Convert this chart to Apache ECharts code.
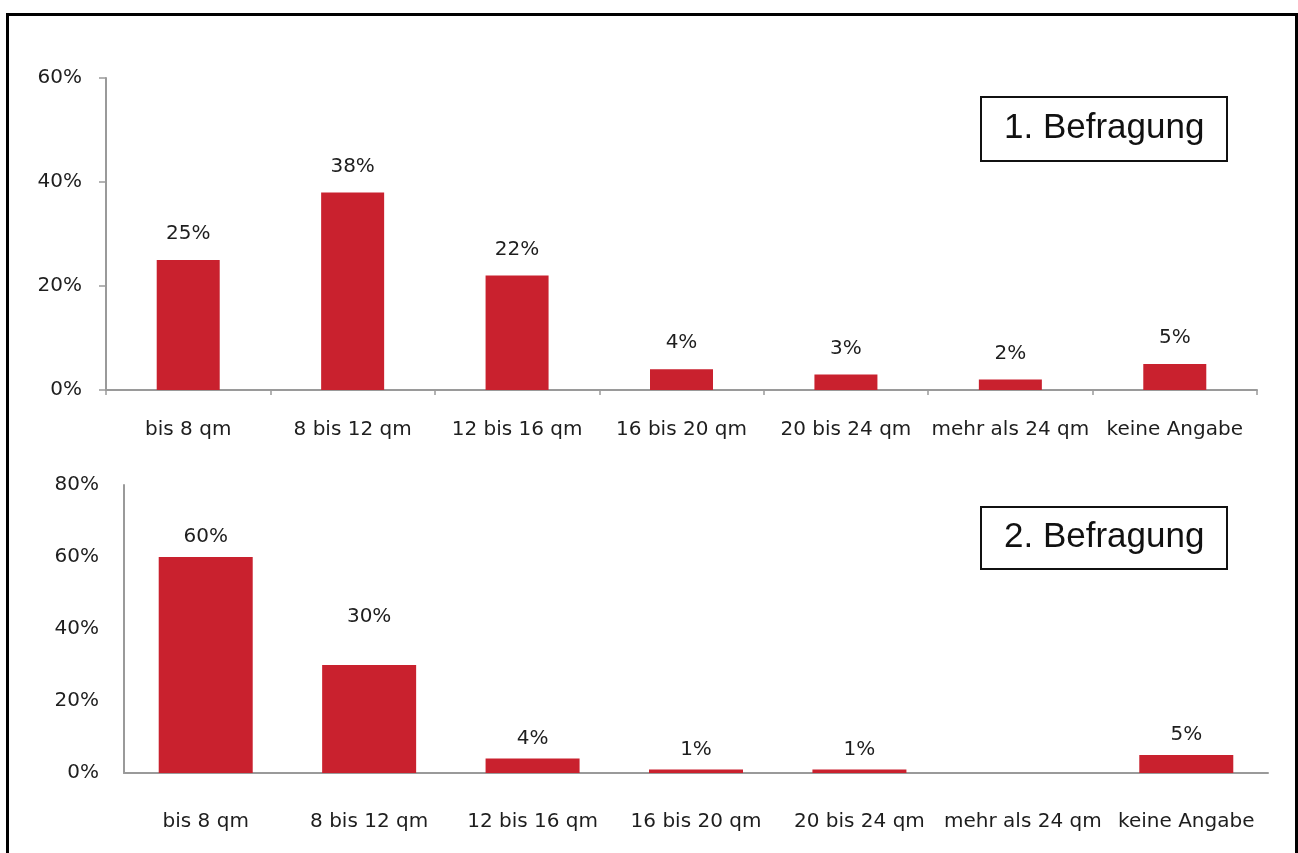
<!DOCTYPE html>
<html>
<head>
<meta charset="utf-8">
<script src="https://cdn.jsdelivr.net/npm/echarts@6/dist/echarts.min.js"></script>
<style>
  html, body { margin: 0; padding: 0; background: #ffffff; }
  #chart { width: 1298px; height: 853px; }
</style>
</head>
<body>
<div id="chart"></div>
<script>
// Room sizes, two survey rounds (share of answers in percent)
const categories = ['bis 8 qm', '8 bis 12 qm', '12 bis 16 qm', '16 bis 20 qm', '20 bis 24 qm', 'mehr als 24 qm', 'keine Angabe'];
const survey1 = [25, 38, 22, 4, 3, 2, 5];
const survey2 = [60, 30, 4, 1, 1, 0, 5];
const panelTitles = ['1. Befragung', '2. Befragung'];
const yMax1 = 60;
const yMax2 = 80;
const yStep = 20;

const FONT = 'DejaVu Sans';
const TEXT = '#1e1e1e';
const AXIS = '#9a9a9a';
const BAR = '#C9212E';

const chart = echarts.init(document.getElementById('chart'), null, { renderer: 'canvas' });

function pct(v) { return v + '%'; }

function barData(values, overrides) {
  return values.map((v, i) => {
    const item = { value: v };
    if (overrides && overrides[i]) item.label = overrides[i];
    return item;
  });
}

const titleStyle = { fontFamily: 'Liberation Sans', fontSize: 35, fontWeight: 'normal', color: '#111' };

chart.setOption({
  animation: false,
  backgroundColor: '#ffffff',
  title: [
    { text: panelTitles[0], left: 981, top: 97, padding: [14, 23, 15, 23],
      borderColor: '#111', borderWidth: 2, textStyle: titleStyle },
    { text: panelTitles[1], left: 981, top: 507, padding: [13, 23, 14, 23],
      borderColor: '#111', borderWidth: 2, textStyle: titleStyle }
  ],
  graphic: [
    { type: 'rect', silent: true, z: 100,
      shape: { x: 7.5, y: 14.5, width: 1289, height: 900 },
      style: { fill: 'none', stroke: '#000', lineWidth: 3 } }
  ],
  grid: [
    { left: 106, top: 78, width: 1151, height: 312 },
    { left: 124, top: 485, width: 1144, height: 288 }
  ],
  xAxis: [
    { type: 'category', gridIndex: 0, data: categories,
      axisLine: { lineStyle: { color: AXIS, width: 2 } },
      axisTick: { show: true, length: 5, lineStyle: { color: AXIS, width: 1.5 } },
      axisLabel: { color: TEXT, fontFamily: FONT, fontSize: 20, margin: 30, interval: 0 } },
    { type: 'category', gridIndex: 1, data: categories,
      axisLine: { lineStyle: { color: AXIS, width: 2 } },
      axisTick: { show: false },
      axisLabel: { color: TEXT, fontFamily: FONT, fontSize: 20, margin: 39, interval: 0 } }
  ],
  yAxis: [
    { type: 'value', gridIndex: 0, min: 0, max: yMax1, interval: yStep,
      splitLine: { show: false },
      axisLine: { show: true, lineStyle: { color: AXIS, width: 2 } },
      axisTick: { show: true, length: 7, lineStyle: { color: AXIS, width: 1.5 } },
      axisLabel: { color: TEXT, fontFamily: FONT, fontSize: 20, margin: 24, formatter: pct } },
    { type: 'value', gridIndex: 1, min: 0, max: yMax2, interval: yStep,
      splitLine: { show: false },
      axisLine: { show: true, lineStyle: { color: AXIS, width: 2 } },
      axisTick: { show: false },
      axisLabel: { color: TEXT, fontFamily: FONT, fontSize: 20, margin: 25, formatter: pct } }
  ],
  series: [
    { type: 'bar', xAxisIndex: 0, yAxisIndex: 0, barWidth: 63,
      data: barData(survey1),
      itemStyle: { color: BAR },
      label: { show: true, position: 'top', distance: 16, color: TEXT,
               fontFamily: FONT, fontSize: 20, formatter: p => pct(p.value) } },
    { type: 'bar', xAxisIndex: 1, yAxisIndex: 1, barWidth: 94,
      data: barData(survey2, { 1: { distance: 38 } }),
      itemStyle: { color: BAR },
      label: { show: true, position: 'top', distance: 10, color: TEXT,
               fontFamily: FONT, fontSize: 20,
               formatter: p => (p.value > 0 ? pct(p.value) : '') } }
  ]
});
</script>
</body>
</html>
